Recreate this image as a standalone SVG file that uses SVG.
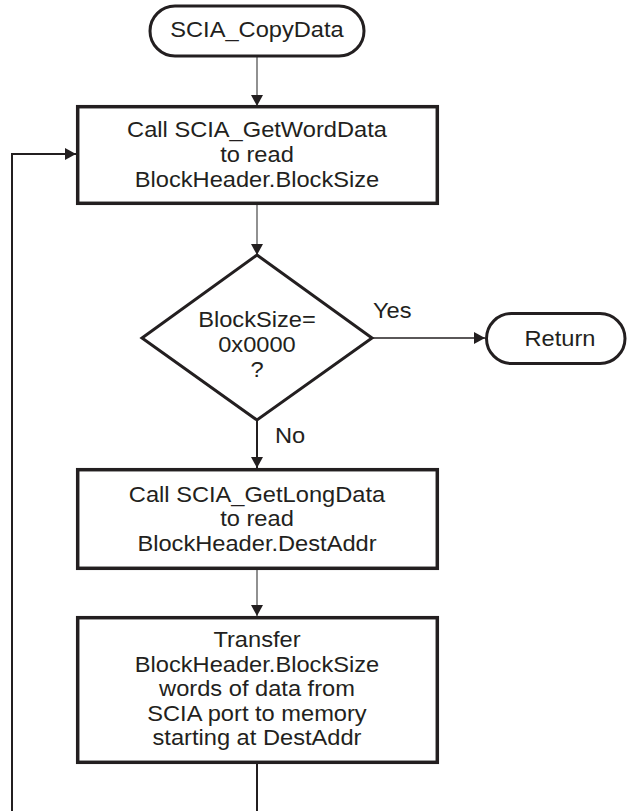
<svg xmlns="http://www.w3.org/2000/svg" width="627" height="811" viewBox="0 0 627 811">
  <style>
    .term { fill: #ffffff; stroke: #231f20; stroke-width: 3; }
    .box { fill: #ffffff; stroke: #231f20; stroke-width: 3.5; }
    .dec { fill: #ffffff; stroke: #231f20; stroke-width: 3; stroke-linejoin: miter; }
    .t { font-family: "Liberation Sans", Arial, sans-serif; font-size: 21.5px; fill: #231f20; text-anchor: middle; }
    .lbl { font-family: "Liberation Sans", Arial, sans-serif; font-size: 21.5px; fill: #231f20; text-anchor: start; }
    .thin { fill: none; stroke: #555555; stroke-width: 1.3; }
    .thick { fill: none; stroke: #231f20; stroke-width: 2; }
    .mid { fill: none; stroke: #231f20; stroke-width: 1.4; }
  </style>
  <defs>
    <marker id="arr" markerUnits="userSpaceOnUse" markerWidth="12" markerHeight="12" refX="11" refY="6" orient="auto">
      <path d="M0,0 L11,6 L0,12 Z" fill="#231f20"/>
    </marker>
  </defs>

  <g id="connectors">
    <line class="thin" x1="257" y1="56" x2="257" y2="106" marker-end="url(#arr)"/>
    <line class="thin" x1="257" y1="205" x2="257" y2="255" marker-end="url(#arr)"/>
    <line class="mid" x1="372" y1="338" x2="485" y2="338" marker-end="url(#arr)"/>
    <line class="thick" x1="257" y1="420" x2="257" y2="468" marker-end="url(#arr)"/>
    <line class="thin" x1="257" y1="570" x2="257" y2="616" marker-end="url(#arr)"/>
    <line class="thick" x1="257" y1="764" x2="257" y2="811"/>
    <polyline class="thick" points="12,811 12,154 76,154" marker-end="url(#arr)"/>
    <g transform="matrix(1.1 0 0 1 -37.3 0)"><text class="lbl" x="373" y="318">Yes</text></g>
    <g transform="matrix(1.1 0 0 1 -27.5 0)"><text class="lbl" x="275" y="443">No</text></g>
  </g>

  <g id="start">
    <rect class="term" x="150" y="6" width="214" height="50" rx="25" ry="25"/>
    <g transform="matrix(1.1 0 0 1 -25.7 0)"><text class="t" x="257" y="37.3">SCIA_CopyData</text></g>
  </g>

  <g id="getword">
    <rect class="box" x="77.7" y="106.7" width="359.6" height="96.6"/>
    <g transform="matrix(1.1 0 0 1 -25.7 0)">
      <text class="t" x="257" y="137.5">Call SCIA_GetWordData</text>
      <text class="t" x="257" y="162.5">to read</text>
      <text class="t" x="257" y="187.5">BlockHeader.BlockSize</text>
    </g>
  </g>

  <g id="decision">
    <polygon class="dec" points="257,255 372,338 257,420 142,338"/>
    <g transform="matrix(1.1 0 0 1 -25.7 0)">
      <text class="t" x="257" y="327">BlockSize=</text>
      <text class="t" x="257" y="352">0x0000</text>
      <text class="t" x="257" y="377">?</text>
    </g>
  </g>

  <g id="return">
    <rect class="term" x="486.5" y="313.5" width="138.5" height="50" rx="25" ry="25"/>
    <g transform="matrix(1.1 0 0 1 -56 0)"><text class="t" x="560" y="346.5">Return</text></g>
  </g>

  <g id="getlong">
    <rect class="box" x="77.7" y="469.7" width="359.6" height="98.6"/>
    <g transform="matrix(1.1 0 0 1 -25.7 0)">
      <text class="t" x="257" y="502.5">Call SCIA_GetLongData</text>
      <text class="t" x="257" y="526.5">to read</text>
      <text class="t" x="257" y="551">BlockHeader.DestAddr</text>
    </g>
  </g>

  <g id="transfer">
    <rect class="box" x="77.7" y="617.7" width="359.6" height="144.6"/>
    <g transform="matrix(1.1 0 0 1 -25.7 0)">
      <text class="t" x="257" y="647">Transfer</text>
      <text class="t" x="257" y="672">BlockHeader.BlockSize</text>
      <text class="t" x="257" y="696">words of data from</text>
      <text class="t" x="257" y="721">SCIA port to memory</text>
      <text class="t" x="257" y="745">starting at DestAddr</text>
    </g>
  </g>
</svg>
